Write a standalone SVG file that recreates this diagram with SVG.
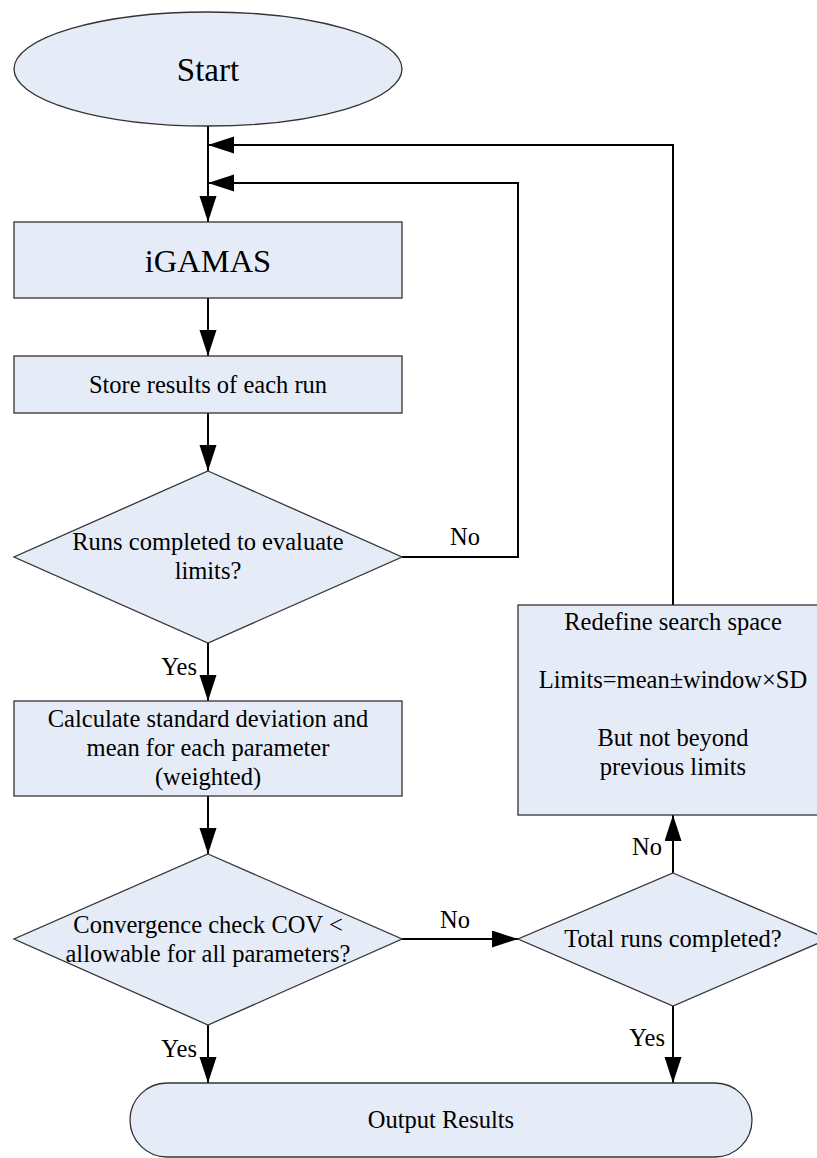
<svg xmlns="http://www.w3.org/2000/svg" width="817" height="1158" viewBox="0 0 817 1158" font-family="'Liberation Serif', 'Times New Roman', 'DejaVu Serif', serif">
<defs>
<style>
.shape{fill:#e6ecf7;stroke:#333;stroke-width:1.3}
.conn{fill:none;stroke:#000;stroke-width:2}
text{font-family:'Liberation Serif','Times New Roman','DejaVu Serif',serif;fill:#000;font-size:24.5px}
.c{text-anchor:middle}
.e{text-anchor:end}
</style>
<marker id="arr" markerUnits="userSpaceOnUse" markerWidth="26" markerHeight="18" refX="26" refY="8.5" orient="auto">
<path d="M0,0 L26,8.5 L0,17 z" fill="#000"/>
</marker>
</defs>
<rect width="817" height="1158" fill="#fff"/>
<g id="connectors">
<line class="conn" x1="208" y1="126" x2="208" y2="222" marker-end="url(#arr)"/>
<line class="conn" x1="208" y1="298" x2="208" y2="356" marker-end="url(#arr)"/>
<line class="conn" x1="208" y1="413" x2="208" y2="471" marker-end="url(#arr)"/>
<line class="conn" x1="208" y1="643" x2="208" y2="701" marker-end="url(#arr)"/>
<line class="conn" x1="208" y1="796" x2="208" y2="854" marker-end="url(#arr)"/>
<line class="conn" x1="208" y1="1025" x2="208" y2="1083" marker-end="url(#arr)"/>
<line class="conn" x1="402" y1="939" x2="518" y2="939" marker-end="url(#arr)"/>
<line class="conn" x1="673" y1="873" x2="673" y2="815" marker-end="url(#arr)"/>
<line class="conn" x1="673" y1="1006" x2="673" y2="1083" marker-end="url(#arr)"/>
<polyline class="conn" points="402,557 518,557 518,183 208,183" marker-end="url(#arr)"/>
<polyline class="conn" points="673,605 673,145 208,145" marker-end="url(#arr)"/>
<text class="c" x="465" y="545">No</text>
<text class="e" x="197" y="675">Yes</text>
<text class="e" x="197" y="1057">Yes</text>
<text class="c" x="455" y="928">No</text>
<text class="e" x="662" y="855">No</text>
<text class="e" x="665" y="1046">Yes</text>
</g>
<g id="start">
<ellipse class="shape" cx="208" cy="69" rx="194" ry="57"/>
<text class="c" x="208" y="81" style="font-size:33px">Start</text>
</g>
<g id="igamas">
<rect class="shape" x="14" y="222" width="388" height="76"/>
<text class="c" x="208" y="272" style="font-size:32.5px">iGAMAS</text>
</g>
<g id="store">
<rect class="shape" x="14" y="356" width="388" height="57"/>
<text class="c" x="208" y="393">Store results of each run</text>
</g>
<g id="decision1">
<polygon class="shape" points="208,471 402,557 208,643 14,557"/>
<text class="c" x="208" y="550">Runs completed to evaluate</text>
<text class="c" x="208" y="579">limits?</text>
</g>
<g id="calc">
<rect class="shape" x="14" y="701" width="388" height="95"/>
<text class="c" x="208" y="727">Calculate standard deviation and</text>
<text class="c" x="208" y="756">mean for each parameter</text>
<text class="c" x="208" y="785">(weighted)</text>
</g>
<g id="decision2">
<polygon class="shape" points="208,854 402,939 208,1025 14,939"/>
<text class="c" x="208" y="933">Convergence check COV &lt;</text>
<text class="c" x="208" y="962">allowable for all parameters?</text>
</g>
<g id="redefine">
<rect class="shape" x="518" y="605" width="310" height="210"/>
<text class="c" x="673" y="630">Redefine search space</text>
<text class="c" x="673" y="688">Limits=mean±window×SD</text>
<text class="c" x="673" y="746">But not beyond</text>
<text class="c" x="673" y="775">previous limits</text>
</g>
<g id="decision3">
<polygon class="shape" points="673,873 828,939 673,1006 518,939"/>
<text class="c" x="673" y="947">Total runs completed?</text>
</g>
<g id="output">
<rect class="shape" x="130" y="1083" width="622" height="74" rx="37" ry="37"/>
<text class="c" x="441" y="1128">Output Results</text>
</g>
</svg>
